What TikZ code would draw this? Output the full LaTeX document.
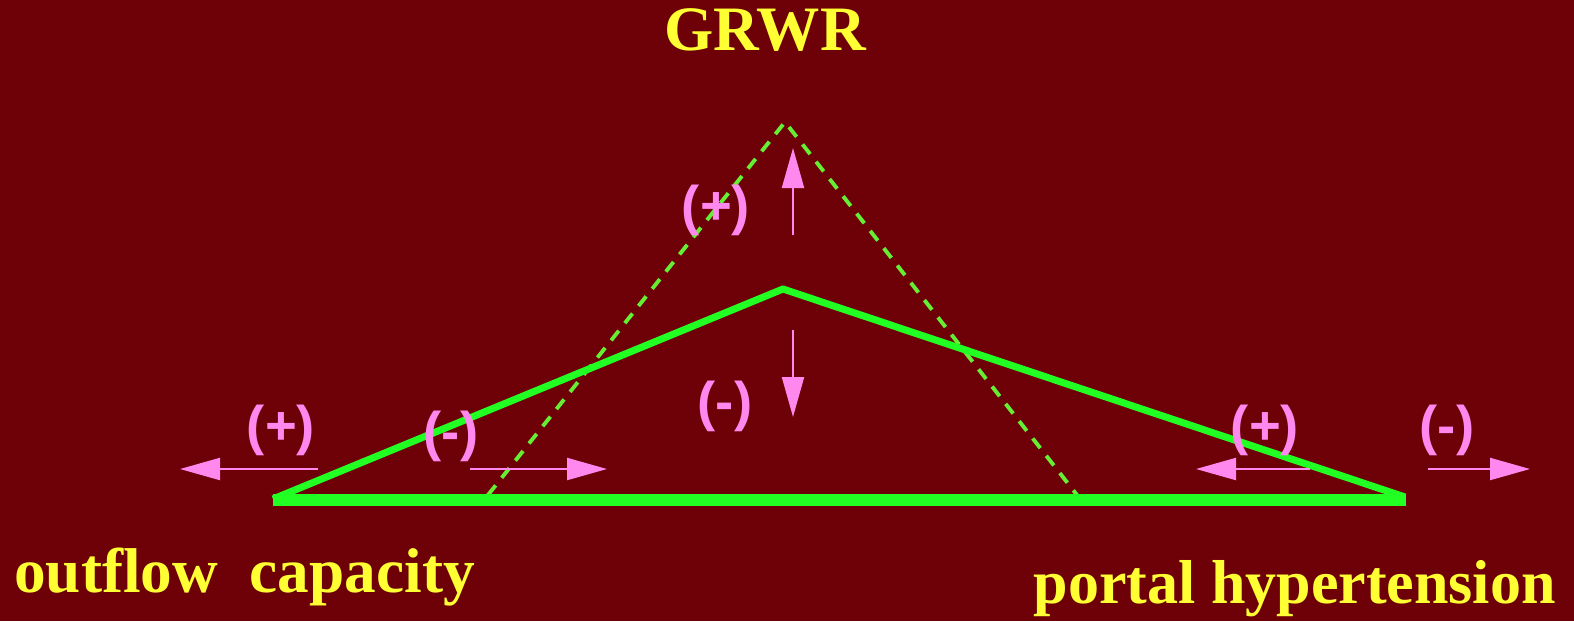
\documentclass[tikz,border=0pt]{standalone}
\usepackage{fontspec}
\setmainfont{Liberation Serif}
\newfontfamily\signfont{Liberation Sans}
\usetikzlibrary{arrows.meta}
\definecolor{maroon}{RGB}{110,0,8}
\definecolor{limeline}{RGB}{34,255,34}
\definecolor{limedash}{RGB}{102,238,51}
\definecolor{pinksign}{RGB}{255,136,238}
\definecolor{yellowtext}{RGB}{255,255,51}
\begin{document}
\begin{tikzpicture}[x=0.2mm,y=-0.2mm,
    sign/.style={text=pinksign,font=\signfont\bfseries\fontsize{31}{31}\selectfont,inner sep=0pt},
    push/.style={pinksign,line width=1.2pt,-{Triangle[length=0.8cm,width=0.44cm]}},
    title/.style={text=yellowtext,font=\bfseries\fontsize{36}{36}\selectfont,inner sep=0pt}]
        \fill[maroon] (0,0) rectangle (1574,621);
        % corners of the triangle
        \coordinate (L) at (273,499);
        \coordinate (T) at (783,289);
        \coordinate (R) at (1405,497);
        \coordinate (BL) at (273,500);
        \coordinate (BR) at (1406,500);
        \coordinate (DL) at (488,495);
        \coordinate (DT) at (785,122);
        \coordinate (DR) at (1077,495);
        \draw[limedash,line width=2.2pt,dash pattern=on 7pt off 5.5pt] (DL)--(DT)--(DR);
        \draw[limeline,line width=4pt,line join=bevel] (L)--(T)--(R);
        \draw[limeline,line width=6.8pt] (BL)--(BR);
        % arrows
        \coordinate (a1) at (318,469); \coordinate (b1) at (180,469);
        \coordinate (a2) at (470,469); \coordinate (b2) at (607,469);
        \coordinate (a3) at (793,235); \coordinate (b3) at (793,148);
        \coordinate (a4) at (793,330); \coordinate (b4) at (793,417);
        \coordinate (a5) at (1310,469); \coordinate (b5) at (1196,469);
        \coordinate (a6) at (1428,469); \coordinate (b6) at (1530,469);
        \foreach \i in {1,...,6} \draw[push] (a\i)--(b\i);
        % signs
        \node[sign] (p1) at (281,430) {(+)};
        \node[sign] (m1) at (451,436) {(-)};
        \node[sign] (p2) at (716,210) {(+)};
        \node[sign] (m2) at (725,406) {(-)};
        \node[sign] (p3) at (1265,430) {(+)};
        \node[sign] (m3) at (1447,430) {(-)};
        % labels
        \node[title] (grwr) at (765,30) {GRWR};
        \node[title,anchor=base west] (outflow) at (14,592) {outflow\ \ capacity};
        \node[title,anchor=base east,font=\bfseries\fontsize{35.3}{36}\selectfont] (portal) at (1556,603) {portal hypertension};
    \end{tikzpicture}
\end{document}
